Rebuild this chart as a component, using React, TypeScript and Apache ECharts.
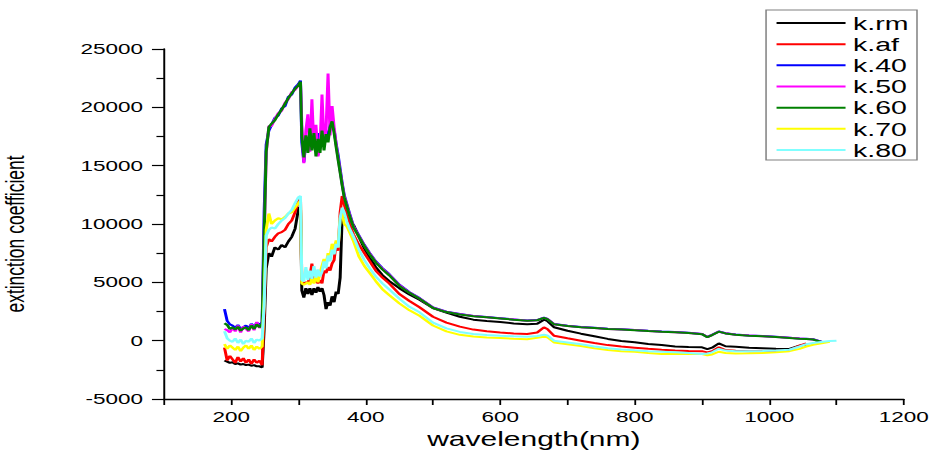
import React, { useEffect, useRef } from "react";
import * as echarts from "echarts";

const WAVELENGTH = [
  190, 194, 198, 202, 206, 210, 214, 218, 222, 226,
  230, 234, 238, 242, 246, 249, 252, 256, 260, 265,
  270, 275, 280, 285, 290, 295, 300, 303, 305, 308,
  311, 314, 317, 320, 323, 326, 329, 332, 335, 338,
  341, 344, 347, 350, 353, 356, 359, 362, 365, 368,
  372, 376, 382, 390, 398, 406, 415, 425, 435, 450,
  465, 480, 500, 520, 540, 560, 580, 600, 620, 640,
  655, 665, 670, 680, 700, 720, 740, 760, 780, 800,
  820, 840, 860, 880, 900, 908, 915, 925, 935, 950,
  970, 990, 1010, 1030, 1045, 1055, 1065, 1080, 1090, 1100,
];

const K_RM = [
  -1700, -1800, -1900, -1850, -2000, -1950, -2050, -2000, -2100, -2050,
  -2150, -2100, -2200, -2200, -2300, 1000, 6200, 7500, 7200, 8000,
  7800, 8200, 8000, 8500, 8900, 9600, 11300, 11500, 4300, 3700,
  4500, 4000, 4500, 3900, 4500, 4100, 4600, 4200, 4500, 3900,
  2700, 3300, 3000, 3800, 3300, 4200, 4000, 5400, 10700, 10600,
  10500, 10300, 9900, 8900, 7900, 7100, 6300, 5600, 5100, 4500,
  3950, 3500, 2800, 2400, 2050, 1800, 1680, 1600, 1480, 1400,
  1450, 1800, 1700, 1150, 850, 600, 380, 150, -20, -130,
  -280, -380, -500, -550, -570, -720, -600, -230, -480, -520,
  -600, -640, -690, -710, -430, -330, null, null, null, null,
];

const K_AF = [
  -600, -1700, -1300, -1600, -1900, -1400, -1800, -1500, -1900, -1600,
  -2000, -1600, -1900, -1700, -2100, 2500, 8000, 8700, 8500, 8900,
  9200, 9300, 9500, 10000, 10300, 11000, 12000, 12200, 5000, 4900,
  5000, 4900, 5500, 6600, 5000, 5200, 4900, 5200, 4900, 6000,
  5800, 6300, 6000, 6600, 6900, 8400, 7700, 11000, 12400, 11700,
  10800, 10000, 9100, 8200, 7500, 6800, 6000, 5400, 4900, 4000,
  3400, 2860, 2050, 1550, 1200, 950, 800, 700, 620, 570,
  700, 1140, 1000, 420, 200, 0, -200, -380, -500, -600,
  -700, -780, -850, -880, -900, -1000, -900, -570, -800, -860,
  -900, -910, -870, -800, -430, -230, null, null, null, null,
];

const K_40 = [
  2700, 1700, 1400, 1300, 1100, 1350, 1000, 1150, 1300, 1050,
  1450, 1150, 1550, 1300, 1600, 11000, 16800, 18000, 18500, 19100,
  19300, 19900, 20100, 20900, 21100, 21700, 22000, 22300, 17000, 15300,
  17000, 16500, 17800, 16800, 17200, 16300, 17800, 16500, 17600, 16800,
  18000, 17400, 18500, 18600, 18100, 16900, 15900, 14700, 13500, 12500,
  11700, 10900, 9800, 9000, 8200, 7500, 6800, 6200, 5700, 4800,
  4150, 3650, 2850, 2480, 2280, 2120, 2020, 1920, 1820, 1720,
  1770, 1980, 1870, 1420, 1270, 1170, 1100, 1020, 970, 920,
  840, 780, 740, 670, 580, 320, 500, 790, 640, 520,
  450, 390, 330, 250, 190, 160, 120, -130, null, null,
];

const K_50 = [
  1000, 900, 700, 1100, 800, 1300, 700, 1200, 1000, 800,
  1400, 900, 1600, 1100, 1300, 8500, 16000, 18400, 18400, 19000,
  19500, 19700, 20400, 20700, 21300, 21500, 21900, 22100, 18500, 15200,
  18000, 19400, 16200, 20700, 16500, 18500, 15800, 16500, 21100, 17000,
  18000, 22900, 17600, 20100, 18300, 16800, 15600, 14500, 13400, 12400,
  11600, 10800, 9750, 8950, 8150, 7450, 6750, 6150, 5650, 4750,
  4120, 3620, 2820, 2470, 2260, 2110, 2010, 1910, 1810, 1710,
  1760, 1960, 1860, 1410, 1260, 1160, 1090, 1010, 960, 910,
  830, 770, 730, 660, 570, 310, 490, 780, 630, 510,
  440, 380, 320, 240, 180, 150, 110, -140, null, null,
];

const K_60 = [
  1500, 1350, 1000, 1150, 950, 1200, 850, 1050, 1150, 900,
  1300, 1000, 1400, 1150, 1450, 9000, 16200, 18300, 18600, 18900,
  19400, 19800, 20300, 20800, 21200, 21600, 21900, 22200, 17500, 15700,
  17600, 16100, 18200, 16300, 17800, 15800, 17300, 16100, 18000, 16300,
  17700, 17000, 18300, 18800, 17800, 16600, 15500, 14400, 13300, 12300,
  11500, 10700, 9700, 8900, 8100, 7400, 6700, 6100, 5600, 4700,
  4100, 3600, 2800, 2450, 2250, 2100, 2000, 1900, 1800, 1700,
  1750, 1950, 1850, 1400, 1250, 1150, 1080, 1000, 950, 900,
  820, 760, 720, 650, 560, 300, 480, 770, 620, 500,
  430, 370, 310, 230, 170, 140, 100, -150, null, null,
];

const K_70 = [
  -300, -700, -400, -600, -800, -500, -900, -600, -400, -700,
  -400, -800, -500, -700, -500, 3500, 9500, 10900, 10000, 10300,
  10500, 10400, 10600, 10900, 11000, 11400, 11800, 12000, 4900, 4800,
  4900, 5000, 4800, 5300, 4900, 5600, 5000, 5800, 6400, 7000,
  6500, 7500, 7200, 8300, 7800, 8600, 8000, 10500, 11000, 10000,
  9800, 9300, 8500, 7200, 6400, 5800, 5100, 4400, 3900, 3200,
  2600, 2140, 1300, 800, 500, 350, 280, 220, 160, 130,
  250, 340, 300, -150, -300, -450, -650, -800, -900, -950,
  -1050, -1140, -1150, -1150, -1150, -1250, -1180, -950, -1050, -1100,
  -1080, -1050, -1000, -900, -700, -500, -350, -200, -100, null,
];

const K_80 = [
  800, 200, 0, -100, 200, -200, 100, -300, 0, -100,
  200, -200, 100, 0, 200, 3000, 9000, 9500, 9700, 9600,
  10000, 10300, 10500, 10900, 11200, 11800, 12300, 12400, 5200, 5100,
  6300, 5200, 6000, 5300, 6400, 5400, 6100, 5500, 5900, 6800,
  6200, 7300, 6800, 7800, 7400, 8300, 8000, 10500, 11400, 11000,
  10200, 9600, 8900, 7800, 6900, 6200, 5500, 4900, 4400, 3600,
  2900, 2430, 1550, 1050, 750, 580, 480, 420, 370, 340,
  400, 510, 450, 0, -150, -300, -500, -650, -750, -830,
  -900, -950, -1000, -1050, -1140, -1100, -1000, -700, -850, -900,
  -900, -880, -850, -780, -500, -300, -200, -100, -30, 0,
];

const SERIES_NAMES = ["k.rm", "k.af", "k.40", "k.50", "k.60", "k.70", "k.80"];
const SERIES_VALUES = [K_RM, K_AF, K_40, K_50, K_60, K_70, K_80];
const SERIES_COLORS = ["#000000", "#ff0000", "#0000ff", "#ff00ff", "#008000", "#ffff00", "#80ffff"];

const X_MIN = 100;
const X_MAX = 1200;
const Y_MIN = -5000;
const Y_MAX = 25000;

const FONT = "'Liberation Sans', Arial, Helvetica, sans-serif";

export default function App() {
  const ref = useRef<HTMLDivElement>(null);

  useEffect(() => {
    if (!ref.current) return;
    const chart = echarts.init(ref.current, undefined, { renderer: "svg" });
    const series = SERIES_NAMES.map((name, si) => ({
      name,
      type: "line",
      symbol: "none",
      showSymbol: false,
      lineStyle: { color: SERIES_COLORS[si], width: 2 },
      itemStyle: { color: SERIES_COLORS[si] },
      data: WAVELENGTH.map((x, i) => [x, SERIES_VALUES[si][i]]).filter((p) => p[1] !== null),
    }));

    chart.setOption({
      animation: false,
      backgroundColor: "#ffffff",
      grid: {
        left: 109.3,
        right: 19.5,
        top: 49,
        bottom: 57,
        containLabel: false,
        outerBoundsMode: "none",
      },
      legend: {
        data: SERIES_NAMES,
        orient: "vertical",
        left: 510.7,
        top: 10,
        icon: "rect",
        itemWidth: 46,
        itemHeight: 2,
        itemGap: 2.17,
        padding: [3.5, 5.7, 0.5, 7],
        borderColor: "#808080",
        borderWidth: 1,
        selectedMode: false,
        textStyle: { fontSize: 19, fontFamily: FONT, color: "#000", lineHeight: 19 },
      },
      xAxis: {
        type: "value",
        min: X_MIN,
        max: X_MAX,
        interval: 100,
        name: "wavelength(nm)",
        nameLocation: "middle",
        nameGap: 30,
        nameTextStyle: { fontSize: 20, fontFamily: FONT, color: "#000" },
        axisLine: { show: true, onZero: false, lineStyle: { color: "#000", width: 1.3 } },
        axisTick: { show: true, length: 6, lineStyle: { color: "#000", width: 1.2 } },
        axisLabel: {
          fontSize: 15,
          fontFamily: FONT,
          color: "#000",
          margin: 10,
          formatter: (v: number) => (v % 200 === 0 ? String(v) : ""),
        },
        splitLine: { show: false },
      },
      yAxis: {
        type: "value",
        min: Y_MIN,
        max: Y_MAX,
        interval: 5000,
        name: "extinction coefficient",
        nameLocation: "middle",
        nameGap: 90,
        nameRotate: 90,
        nameTextStyle: { fontSize: 17.5, fontFamily: FONT, color: "#000", padding: [0, 20, 0, 0] },
        axisLine: { show: true, onZero: false, lineStyle: { color: "#000", width: 1.3 } },
        axisTick: { show: true, length: 8, lineStyle: { color: "#000", width: 1.2 } },
        minorTick: { show: true, splitNumber: 2, length: 5, lineStyle: { color: "#000", width: 1.2 } },
        axisLabel: {
          fontSize: 15,
          fontFamily: FONT,
          color: "#000",
          margin: 14,
          formatter: (v: number) => String(v),
        },
        splitLine: { show: false },
        minorSplitLine: { show: false },
      },
      series,
    });

    return () => {
      chart.dispose();
    };
  }, []);

  return (
    <div
      ref={ref}
      style={{
        position: "absolute",
        left: 0,
        top: 0,
        width: 622,
        height: 456,
        transform: "scaleX(1.5)",
        transformOrigin: "0 0",
      }}
    />
  );
}
